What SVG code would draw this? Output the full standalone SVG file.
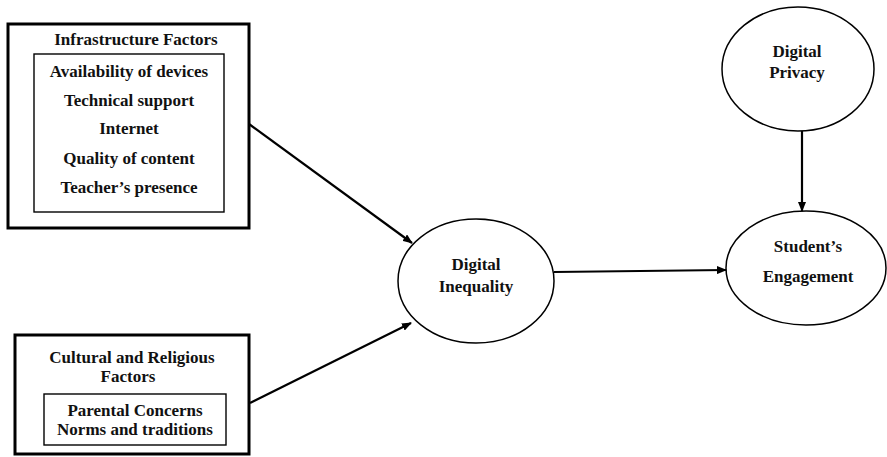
<svg xmlns="http://www.w3.org/2000/svg" width="887" height="457" viewBox="0 0 887 457">
<style>
text{font-family:"Liberation Serif","Times New Roman",serif;font-weight:bold;font-size:17px;fill:#111;text-anchor:middle}
.outer{fill:#fff;stroke:#000;stroke-width:3}
.inner{fill:none;stroke:#000;stroke-width:1.4}
.ell{fill:#fff;stroke:#000;stroke-width:1.5}
.conn{stroke:#000;stroke-width:2.2;fill:none;marker-end:url(#ah)}
</style>
<defs>
<marker id="ah" markerWidth="10" markerHeight="8" refX="9" refY="4" orient="auto" markerUnits="userSpaceOnUse">
<path d="M0,0 L10,4 L0,8 Z" fill="#000"/>
</marker>
</defs>
<rect width="887" height="457" fill="#fff"/>
<g id="infrastructure">
<rect class="outer" x="8" y="24" width="241" height="204"/>
<rect class="inner" x="34" y="54" width="190" height="158"/>
<text x="136" y="45">Infrastructure Factors</text>
<text x="129" y="77">Availability of devices</text>
<text x="129" y="106">Technical support</text>
<text x="129" y="134">Internet</text>
<text x="129" y="164">Quality of content</text>
<text x="129" y="193">Teacher’s presence</text>
</g>
<g id="cultural">
<rect class="outer" x="15" y="335" width="234" height="119"/>
<rect class="inner" x="44" y="394" width="182" height="51"/>
<text x="132" y="363">Cultural and Religious</text>
<text x="128" y="382">Factors</text>
<text x="135" y="416">Parental Concerns</text>
<text x="135" y="435">Norms and traditions</text>
</g>
<g id="inequality">
<ellipse class="ell" cx="476" cy="281" rx="78" ry="62"/>
<text x="476" y="270">Digital</text>
<text x="476" y="292">Inequality</text>
</g>
<g id="privacy">
<ellipse class="ell" cx="798" cy="69" rx="76" ry="62"/>
<text x="797" y="57">Digital</text>
<text x="797" y="78">Privacy</text>
</g>
<g id="engagement">
<ellipse class="ell" cx="806" cy="268" rx="80" ry="57"/>
<text x="808" y="252">Student’s</text>
<text x="808" y="282">Engagement</text>
</g>
<g id="connectors">
<line class="conn" x1="249" y1="124" x2="412" y2="243"/>
<line class="conn" x1="250" y1="403" x2="411" y2="323"/>
<line class="conn" x1="554" y1="272" x2="726" y2="270"/>
<line class="conn" x1="802" y1="131" x2="802" y2="211"/>
</g>
</svg>
